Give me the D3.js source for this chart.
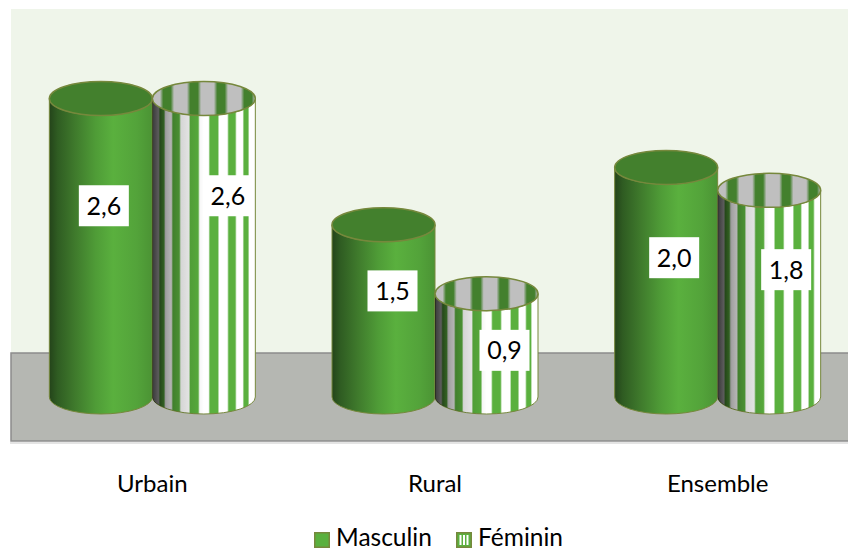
<!DOCTYPE html>
<html lang="fr">
<head>
<meta charset="UTF-8">
<title>Masculin / Féminin</title>
<script src="https://d3js.org/d3.v7.min.js"></script>
<style>
  html, body { margin: 0; padding: 0; background: #fff; }
  svg { display: block; }
  text { font-family: Lato, "Open Sans", sans-serif; fill: #000; }
</style>
</head>
<body>
<div id="chart"></div>
<script>
// data
const categories = ["Urbain", "Rural", "Ensemble"];
const seriesNames = ["Masculin", "Féminin"];
const masculin = [2.6, 1.5, 2.0];
const feminin = [2.6, 0.9, 1.8];

const width = 848, height = 551;
const baseY = 397, topY = 98.5;    // y of the ellipse centres for 0 and 2.6
const rx = 51.5, ry = 17;
const wallTop = 9, floorTop = 353, floorBottom = 441, plotLeft = 11;

// hand placed data label offsets from the cylinder centre, same order as the values
const labelShift = {
  "Masculin": [[3, -42], [9, -20], [8, -24.5]],
  "Féminin": [[24, -52], [18, 5], [17, -24]]
};

const svg = d3.select("#chart").append("svg")
  .attr("width", width).attr("height", height);
const defs = svg.append("defs");

const x0 = d3.scaleBand().domain(categories).range([plotLeft, plotLeft + 848]);
const x1 = d3.scaleBand().domain(seriesNames).range([-103, 103]);
const y = d3.scaleLinear().domain([0, 2.6]).range([baseY, topY]);

function gradient(id, stops) {
  const g = defs.append("linearGradient").attr("id", id)
    .attr("x1", 0).attr("x2", 1).attr("y1", 0).attr("y2", 0);
  stops.forEach(s => g.append("stop")
    .attr("offset", s[0]).attr("stop-color", s[1]).attr("stop-opacity", s[2] === undefined ? 1 : s[2]));
}

gradient("solidBody", [
  [0, "#24441a"], [0.08, "#2f5c22"], [0.25, "#3f7a2c"], [0.45, "#4f9c37"],
  [0.62, "#5ab03e"], [0.85, "#53a33a"], [1, "#4b9334"]
]);

// stripes wrapped round the cylinder: equal angles, so they get thin at the edges
const stripeStops = [[0, "#fff"]];
d3.range(6).forEach(i => {
  const a = (30 + 22 * i) * Math.PI / 180, b = (30 + 22 * i + 10.5) * Math.PI / 180;
  const u0 = (1 - Math.cos(a)) / 2, u1 = (1 - Math.cos(b)) / 2;
  stripeStops.push([u0 - 0.008, "#fff"], [u0 + 0.008, "#5ab03e"],
                   [u1 - 0.008, "#5ab03e"], [u1 + 0.008, "#fff"]);
});
stripeStops.push([1, "#fff"]);
gradient("stripeBody", stripeStops);

gradient("stripeShade", [
  [0, "#000", 0.78], [0.06, "#000", 0.64], [0.14, "#000", 0.36], [0.28, "#000", 0.16],
  [0.42, "#000", 0.07], [0.5, "#000", 0], [1, "#000", 0]
]);

// inside of the open cylinder
const innerStops = [[0, "#bfbfbf"]];
d3.range(4).forEach(i => {
  const a = 0.09 + 0.262 * i, b = a + 0.105;
  innerStops.push([a - 0.016, "#bfbfbf"], [a + 0.016, "#43802d"],
                  [b - 0.016, "#43802d"], [b + 0.016, "#bfbfbf"]);
});
innerStops.push([1, "#bfbfbf"]);
gradient("stripeInner", innerStops);

// wall and floor
svg.append("rect").attr("x", plotLeft).attr("y", wallTop)
  .attr("width", width - plotLeft).attr("height", floorTop - wallTop).attr("fill", "#eff5ea");
svg.append("rect").attr("x", plotLeft - 1).attr("y", floorBottom + 1)
  .attr("width", width).attr("height", 2).attr("fill", "#e4e4e4");
svg.append("rect").attr("x", plotLeft).attr("y", floorTop)
  .attr("width", width).attr("height", floorBottom - floorTop)
  .attr("fill", "#b5b7b2").attr("stroke", "#8c8c8c").attr("stroke-width", 1.5);

const bodyPath = (cx, yt) =>
  `M${cx - rx},${yt}L${cx - rx},${baseY}A${rx},${ry} 0 0 0 ${cx + rx},${baseY}L${cx + rx},${yt}A${rx},${ry} 0 0 1 ${cx - rx},${yt}Z`;

const rows = [];
seriesNames.forEach((s, si) => {
  const vals = si === 0 ? masculin : feminin;
  categories.forEach((c, ci) => rows.push({
    series: s, si, category: c, value: vals[ci],
    cx: x0(c) + x0.bandwidth() / 2 + x1(s) + x1.bandwidth() / 2,
    shift: labelShift[s][ci]
  }));
});

const cyl = svg.append("g").selectAll("g").data(rows).enter().append("g");

cyl.append("path")
  .attr("d", d => bodyPath(d.cx, y(d.value)))
  .attr("fill", d => d.si === 0 ? "url(#solidBody)" : "url(#stripeBody)")
  .attr("stroke", "#76883c").attr("stroke-width", 1);

cyl.filter(d => d.si === 1).append("path")
  .attr("d", d => bodyPath(d.cx, y(d.value)))
  .attr("fill", "url(#stripeShade)");

cyl.append("ellipse")
  .attr("cx", d => d.cx).attr("cy", d => y(d.value))
  .attr("rx", rx).attr("ry", ry)
  .attr("fill", d => d.si === 0 ? "#43802d" : "url(#stripeInner)")
  .attr("stroke", "#76883c").attr("stroke-width", 1.5);

// data labels
const labels = svg.append("g").selectAll("g").data(rows).enter().append("g")
  .attr("transform", d => `translate(${d.cx + d.shift[0]},${(y(d.value) + baseY) / 2 + d.shift[1]})`);
labels.append("rect")
  .attr("x", -25).attr("y", -20.5).attr("width", 50).attr("height", 41).attr("fill", "#fff");
labels.append("text")
  .attr("text-anchor", "middle").attr("dy", "0.36em").attr("font-size", 25)
  .text(d => d3.format(".1f")(d.value).replace(".", ","));

// category axis
const axis = svg.append("g")
  .attr("transform", `translate(0,${floorBottom})`)
  .call(d3.axisBottom(x0).tickSize(0).tickPadding(34));
axis.select(".domain").remove();
axis.selectAll("text").attr("font-size", 24).style("font-family", "Lato, sans-serif");

// legend
const legend = svg.append("g");
const legendX = [314, 456];
const items = legend.selectAll("g").data(seriesNames).enter().append("g")
  .attr("transform", (d, i) => `translate(${legendX[i]},532)`);
items.append("rect")
  .attr("x", 0.75).attr("y", 0.75).attr("width", 14.5).attr("height", 14.5)
  .attr("fill", "#5ab03e").attr("stroke", "#76883c").attr("stroke-width", 1.5);
const fem = items.filter((d, i) => i === 1);
d3.range(3).forEach(i => fem.append("rect")
  .attr("x", 3.5 + i * 3.5).attr("y", 3).attr("width", 2).attr("height", 10).attr("fill", "#fff"));
items.append("text")
  .attr("x", 22).attr("y", 13.5).attr("font-size", 24.5)
  .text(d => d);
</script>
</body>
</html>
